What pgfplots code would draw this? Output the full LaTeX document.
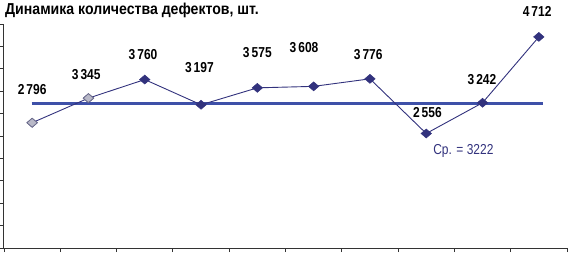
\documentclass[border=0pt]{standalone}
\usepackage{fontspec}
\setmainfont{Liberation Sans}
\usepackage{graphicx}
\usepackage{pgfplots}
\pgfplotsset{compat=1.18}
\definecolor{navy}{RGB}{50,50,125}
\definecolor{meanblue}{RGB}{62,80,168}
\definecolor{lgray}{RGB}{185,185,200}
\definecolor{dgray}{RGB}{110,110,140}
\newcommand{\tall}[1]{\scalebox{1}[1.2]{#1}}
\pgfplotstableread{
x y
1 2796
2 3345
3 3760
4 3197
5 3575
6 3608
7 3776
8 2556
9 3242
10 4712
}\defects
\begin{document}
\begin{tikzpicture}
\begin{axis}[
  scale only axis,
  width=563pt, height=224pt,
  xmin=0.5, xmax=10.5, ymin=0, ymax=5000,
  axis x line*=bottom, axis y line*=left,
  axis line style={draw=black!80, line width=1pt, -},
  xtick={0.5,1.5,...,10.5}, ytick={0,500,...,5000},
  xticklabels={}, yticklabels={},
  tick align=outside, major tick length=4pt,
  tick style={draw=black!80, line width=0.8pt},
  clip=false,
]
\addplot[meanblue, line width=2.8pt, forget plot] coordinates {(0.99,3222) (10.07,3222)};
\addplot[navy, line width=0.9pt, mark=diamond*, mark size=4.5pt,
  mark options={xscale=1.55, fill=navy, draw=navy, line width=0.5pt}] table[x=x,y=y] {\defects};
\addplot[only marks, mark=diamond*, mark size=4.5pt,
  mark options={xscale=1.55, fill=lgray, draw=dgray, line width=0.8pt}] coordinates {(1,2796) (2,3345)};
\begin{scope}[every node/.style={font=\fontsize{12}{14}\selectfont\bfseries, inner sep=0pt, anchor=center}]
\node at (axis cs:1.0,3527) {\tall{2\,796}};
\node at (axis cs:1.96,3862) {\tall{3\,345}};
\node at (axis cs:2.97,4308) {\tall{3\,760}};
\node at (axis cs:3.97,4018) {\tall{3\,197}};
\node at (axis cs:5.0,4353) {\tall{3\,575}};
\node at (axis cs:5.83,4464) {\tall{3\,608}};
\node at (axis cs:6.97,4308) {\tall{3\,776}};
\node at (axis cs:8.02,3013) {\tall{2\,556}};
\node at (axis cs:8.99,3750) {\tall{3\,242}};
\node at (axis cs:9.97,5290) {\tall{4\,712}};
\end{scope}
\node[font=\fontsize{12}{14}\selectfont, text=navy, inner sep=0pt, anchor=center] at (axis cs:8.66,2165) {\tall{Ср. = 3222}};
\node[font=\fontsize{14.1}{16}\selectfont\bfseries, inner sep=0pt, anchor=north west] at (axis cs:0.518,5469) {\scalebox{1}[1.12]{Динамика количества дефектов, шт.}};
\coordinate (bbTL) at (axis cs:0.429,5536);
\coordinate (bbBR) at (axis cs:10.518,-112);
\end{axis}
\pgfresetboundingbox
\path (bbTL) (bbBR);
\end{tikzpicture}
\end{document}
